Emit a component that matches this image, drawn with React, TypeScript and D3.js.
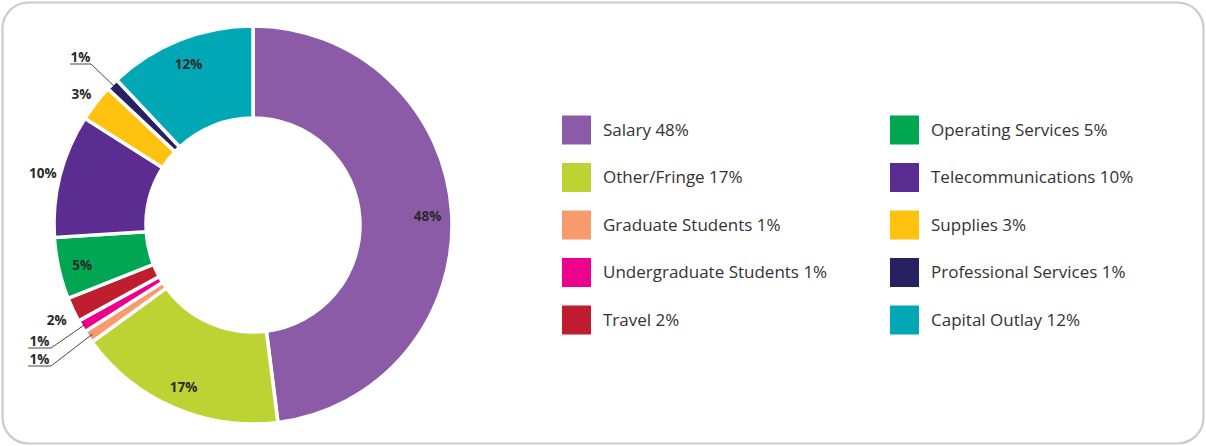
import { useEffect, useRef } from 'react';
import { select, pie, arc } from 'd3';

const categories = [
  'Salary',
  'Other/Fringe',
  'Graduate Students',
  'Undergraduate Students',
  'Travel',
  'Operating Services',
  'Telecommunications',
  'Supplies',
  'Professional Services',
  'Capital Outlay',
];
const values = [48, 17, 1, 1, 2, 5, 10, 3, 1, 12];
const colors = [
  '#8c5ba7',
  '#bcd333',
  '#f79a6c',
  '#ec008c',
  '#be1e2d',
  '#00a651',
  '#5b2d90',
  '#ffc20e',
  '#262262',
  '#00a8b5',
];

const W = 1206;
const H = 446;
const cx = 253;
const cy = 225;
const inner = 107;
const outer = 199;

// how each slice gets its percent label
const inside = ['Salary', 'Other/Fringe', 'Operating Services', 'Capital Outlay'];
const outside = ['Travel', 'Telecommunications', 'Supplies'];
// leader labels: underline start/end and y
const leaders = {
  'Graduate Students': { x0: 28, x1: 51, y: 366 },
  'Undergraduate Students': { x0: 28, x1: 51, y: 348 },
  'Professional Services': { x0: 70, x1: 91, y: 64 },
};

const font = '"Open Sans", sans-serif';

const App = () => {
  const svgRef = useRef(null);

  useEffect(() => {
    const svg = select(svgRef.current);
    svg.selectAll('*').remove();

    svg
      .append('rect')
      .attr('x', 2.5)
      .attr('y', 2.5)
      .attr('width', W - 5)
      .attr('height', H - 5)
      .attr('rx', 26)
      .attr('fill', '#fff')
      .attr('stroke', '#cbcbcb')
      .attr('stroke-width', 2.2);

    const data = categories.map((c, i) => ({ name: c, value: values[i], color: colors[i] }));
    const arcs = pie().sort(null).value((d) => d.value)(data);

    const g = svg.append('g').attr('transform', `translate(${cx},${cy})`);
    const arcGen = arc().innerRadius(inner).outerRadius(outer);

    g.selectAll('.slice')
      .data(arcs)
      .join('path')
      .attr('class', 'slice')
      .attr('d', arcGen)
      .attr('fill', (d) => d.data.color)
      .attr('stroke', '#fff')
      .attr('stroke-width', 3.5)
      .attr('stroke-linejoin', 'miter');

    const inArc = arc().innerRadius(175).outerRadius(175);
    const outArc = arc().innerRadius(217).outerRadius(217);
    const tipArc = arc().innerRadius(194).outerRadius(194);

    const labelText = (sel) =>
      sel
        .attr('font-family', font)
        .attr('font-weight', 700)
        .attr('font-size', 13.5)
        .attr('fill', '#2a2a2a')
        .attr('text-anchor', 'middle');

    g.selectAll('.in-label')
      .data(arcs.filter((d) => inside.includes(d.data.name)))
      .join('text')
      .attr('class', 'in-label')
      .attr('x', (d) => inArc.centroid(d)[0])
      .attr('y', (d) => inArc.centroid(d)[1])
      .attr('dy', '0.5em')
      .text((d) => `${d.data.value}%`)
      .call(labelText);

    g.selectAll('.out-label')
      .data(arcs.filter((d) => outside.includes(d.data.name)))
      .join('text')
      .attr('class', 'out-label')
      .attr('x', (d) => outArc.centroid(d)[0])
      .attr('y', (d) => outArc.centroid(d)[1])
      .attr('dy', '0.55em')
      .text((d) => `${d.data.value}%`)
      .call(labelText);

    const leaderArcs = arcs.filter((d) => leaders[d.data.name]);
    const lg = svg.append('g');
    leaderArcs.forEach((d) => {
      const l = leaders[d.data.name];
      const [tx, ty] = tipArc.centroid(d);
      lg.append('polyline')
        .attr('points', `${l.x0},${l.y} ${l.x1},${l.y} ${tx + cx},${ty + cy}`)
        .attr('fill', 'none')
        .attr('stroke', '#333')
        .attr('stroke-width', 0.9);
      lg.append('text')
        .attr('x', (l.x0 + l.x1) / 2)
        .attr('y', l.y - 2.5)
        .text(`${d.data.value}%`)
        .call(labelText);
    });

    const legend = svg
      .selectAll('.legend')
      .data(data)
      .join('g')
      .attr('class', 'legend')
      .attr('transform', (d, i) => {
        const col = Math.floor(i / 5);
        const row = i % 5;
        return `translate(${562 + col * 328},${130 + row * 47.5})`;
      });

    legend
      .append('rect')
      .attr('x', 0)
      .attr('y', -14.5)
      .attr('width', 29)
      .attr('height', 29)
      .attr('fill', (d) => d.color);

    legend
      .append('text')
      .attr('x', 41)
      .attr('y', 0)
      .attr('dy', '0.35em')
      .attr('font-family', font)
      .attr('font-size', 17)
      .attr('fill', '#333')
      .text((d) => `${d.name} ${d.value}%`);
  }, []);

  return (
    <svg
      ref={svgRef}
      width={W}
      height={H}
      style={{ position: 'absolute', left: 0, top: 0, display: 'block' }}
    />
  );
};

export default App;
